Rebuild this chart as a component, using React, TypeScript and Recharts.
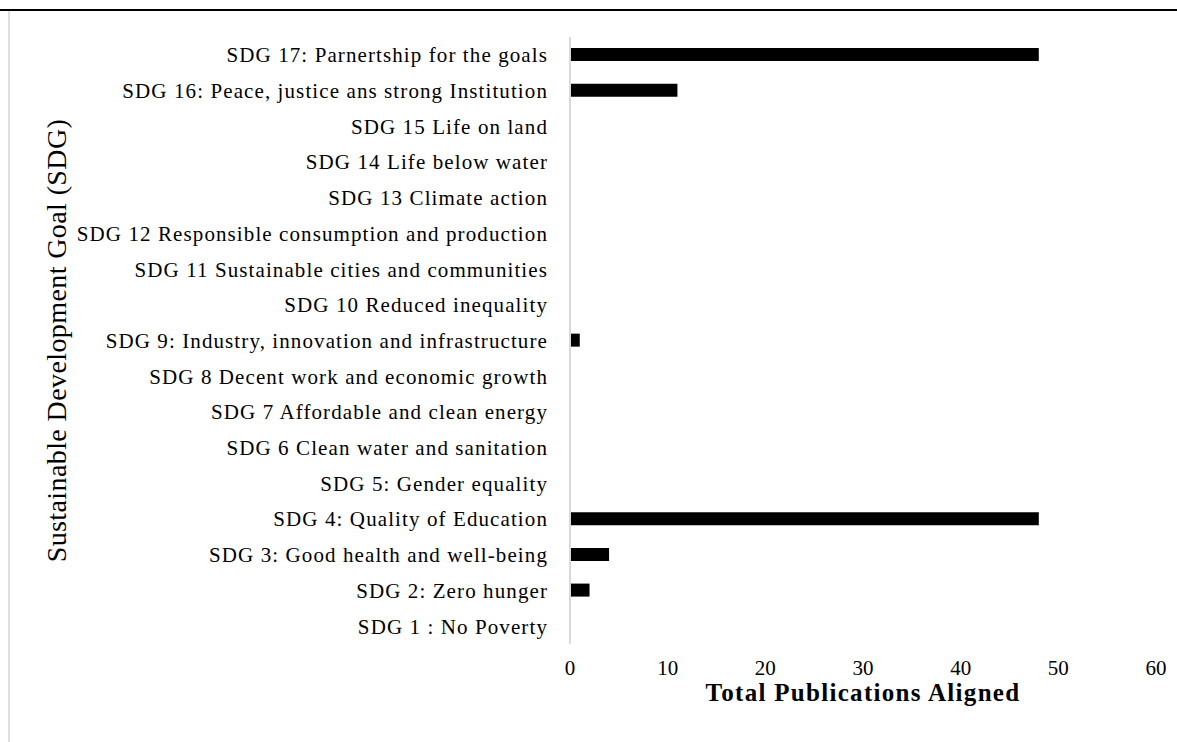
import React from "react";
import { BarChart, Bar, XAxis, YAxis } from "recharts";

const categories = [
  "SDG 17: Parnertship for the goals",
  "SDG 16: Peace, justice ans strong Institution",
  "SDG 15 Life on land",
  "SDG 14 Life below water",
  "SDG 13 Climate action",
  "SDG 12 Responsible consumption and production",
  "SDG 11 Sustainable cities and communities",
  "SDG 10 Reduced inequality",
  "SDG 9: Industry, innovation and infrastructure",
  "SDG 8 Decent work and economic growth",
  "SDG 7 Affordable and clean energy",
  "SDG 6 Clean water and sanitation",
  "SDG 5: Gender equality",
  "SDG 4: Quality of Education",
  "SDG 3: Good health and well-being",
  "SDG 2: Zero hunger",
  "SDG 1 : No Poverty",
];

const publications = [48, 11, 0, 0, 0, 0, 0, 0, 1, 0, 0, 0, 0, 48, 4, 2, 0];

const xTicks = [0, 10, 20, 30, 40, 50, 60];

const data = categories.map((name, i) => ({ name, value: publications[i] }));

const FONT = "'Liberation Serif', 'Times New Roman', serif";

export default function App() {
  return (
    <div
      style={{
        position: "absolute",
        left: 0,
        top: 0,
        width: 1177,
        height: 742,
        background: "#fff",
        fontFamily: FONT,
      }}
    >
      <div
        style={{
          position: "absolute",
          left: 0,
          top: 9,
          width: 1177,
          height: 2,
          background: "#000",
        }}
      />
      <div
        style={{
          position: "absolute",
          left: 8,
          top: 11,
          width: 2,
          height: 731,
          background: "#e0e0e0",
        }}
      />
      <div style={{ position: "absolute", left: 0, top: 0 }}>
        <BarChart
          width={1177}
          height={742}
          data={data}
          layout="vertical"
          margin={{ top: 37, right: 21, bottom: 0, left: 0 }}
          barSize={13}
        >
          <XAxis
            type="number"
            domain={[0, 60]}
            ticks={xTicks}
            axisLine={false}
            tickLine={false}
            height={98}
            tickMargin={10}
            tick={{ fill: "#000", fontSize: 21, fontFamily: FONT }}
            label={{
              value: "Total Publications Aligned",
              position: "insideTop",
              offset: 39,
              fill: "#000",
              fontSize: 25,
              fontWeight: "bold",
              fontFamily: FONT,
              style: { letterSpacing: "1.3px" },
            }}
          />
          <YAxis
            type="category"
            dataKey="name"
            width={570}
            axisLine={{ stroke: "#d9d9d9", strokeWidth: 2 }}
            tickLine={false}
            tickMargin={16}
            interval={0}
            tick={{
              fill: "#000",
              fontSize: 21,
              fontFamily: FONT,
              style: { letterSpacing: "1.1px" },
            }}
            label={{
              value: "Sustainable Development Goal  (SDG)",
              angle: -90,
              position: "insideLeft",
              offset: 56,
              fill: "#000",
              fontSize: 28,
              fontFamily: FONT,
              style: { textAnchor: "middle", letterSpacing: "0.4px" },
            }}
          />
          <Bar dataKey="value" fill="#000" isAnimationActive={false} />
        </BarChart>
      </div>
    </div>
  );
}
